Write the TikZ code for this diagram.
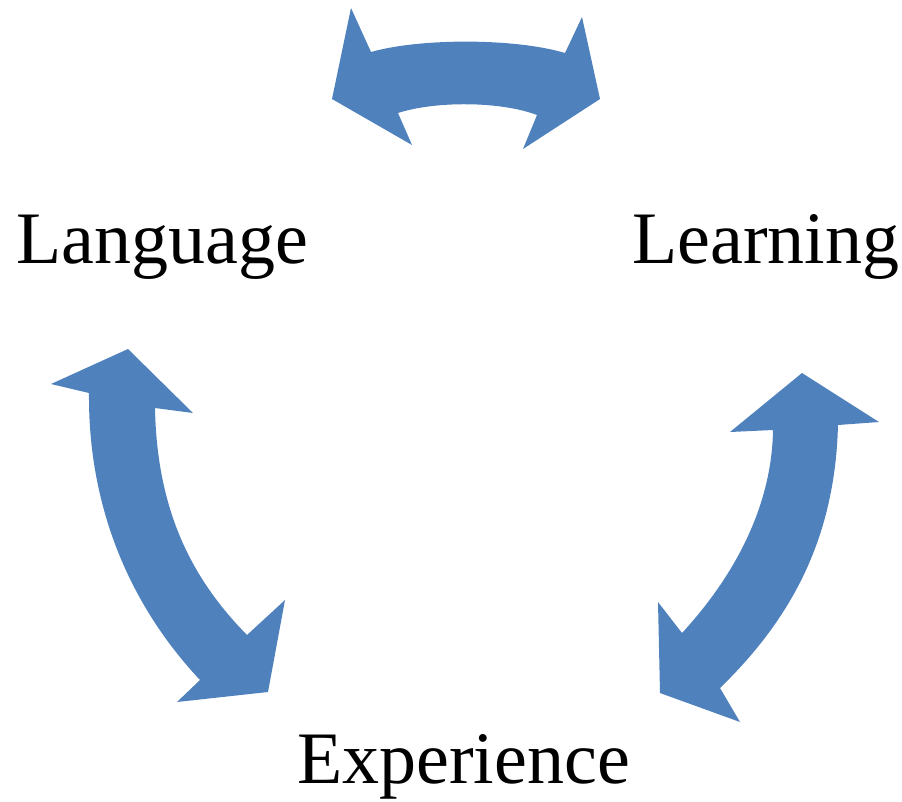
\documentclass[tikz,border=0pt]{standalone}
\usepackage{fontspec}
\setmainfont{Liberation Serif}
\usetikzlibrary{calc}
\definecolor{arrowblue}{RGB}{79,129,189}
\tikzset{
	word/.style={anchor=base west,inner sep=0pt,font=\fontsize{74}{80}\selectfont},
	blockarrow/.style={fill=arrowblue,draw=none}
}

\begin{document}
\begin{tikzpicture}[x=1pt,y=-1pt]
	\useasboundingbox (0,0) rectangle (902,801);
	% labels
	\node[word] (lang) at (16,263) {Language};
	\node[word] (learn) at (632,263) {Learning};
	\node[word] (exper) at (297,783) {Experience};
	% top arrow
	\fill[blockarrow] (332,99) -- (351,8) -- (371,52)
		.. controls (420,38) and (515,38) .. (565,53) -- (582,17) -- (600,99)
		-- (523,149) -- (537,115)
		.. controls (500,101) and (435,101) .. (398,113) -- (412,145) -- cycle;
	% left arrow
	\fill[blockarrow] (128,349) -- (193,413) -- (155,408)
		.. controls (157,515) and (195,582) .. (247,635) -- (285,600) -- (268,692)
		-- (177,702) -- (200,680)
		.. controls (125,600) and (88,500) .. (89,393) -- (51,384) -- cycle;
	% right arrow
	\fill[blockarrow] (802,373) -- (879,422) -- (838,425)
		.. controls (835,540) and (790,620) .. (720,688) -- (740,722) -- (660,693)
		-- (658,602) -- (682,633)
		.. controls (740,570) and (772,500) .. (773,430) -- (730,432) -- cycle;
\end{tikzpicture}
\end{document}
